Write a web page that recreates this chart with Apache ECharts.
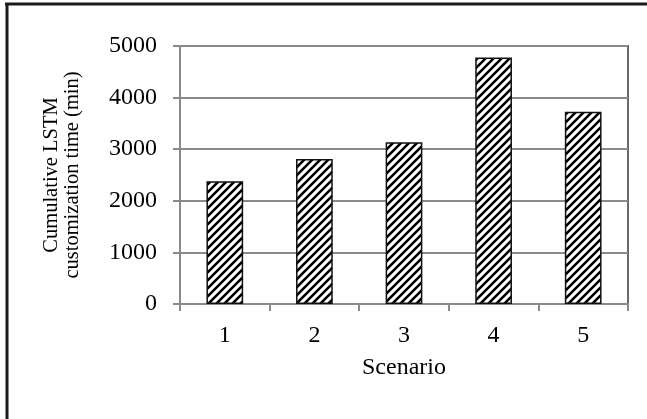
<!DOCTYPE html>
<html><head><meta charset="utf-8">
<script src="https://cdn.jsdelivr.net/npm/echarts@6/dist/echarts.min.js"></script>
<style>html,body{margin:0;padding:0;background:#fff}#c{width:647px;height:419px}</style>
</head><body><div id="c"></div>
<script>
var categories = ['1', '2', '3', '4', '5'];
var values = [2380, 2810, 3135, 4775, 3725];
var yTicks = [0, 1000, 2000, 3000, 4000, 5000];
var xName = 'Scenario';
var yName = 'Cumulative LSTM\ncustomization time (min)';

function hatch() {
  var s = 8, c = document.createElement('canvas');
  c.width = s; c.height = s;
  var g = c.getContext('2d');
  g.fillStyle = '#fff'; g.fillRect(0, 0, s, s);
  g.strokeStyle = '#000'; g.lineWidth = 2.6;
  [[0, s, s, 0], [-s/2, s/2, s/2, -s/2], [s/2, s*1.5, s*1.5, s/2]].forEach(function (l) {
    g.beginPath(); g.moveTo(l[0], l[1]); g.lineTo(l[2], l[3]); g.stroke();
  });
  return c;
}

var font = '"Liberation Serif", "Times New Roman", serif';
var chart = echarts.init(document.getElementById('c'), null, {renderer: 'canvas'});
chart.setOption({
  animation: false,
  backgroundColor: '#fff',
  grid: {left: 180, right: 19, top: 46, bottom: 115, show: true, borderColor: '#6a6a6a', borderWidth: 2, backgroundColor: 'transparent'},
  xAxis: {
    type: 'category', data: categories,
    name: xName, nameLocation: 'middle', nameGap: 52,
    nameTextStyle: {fontFamily: font, fontSize: 24, color: '#000'},
    axisLine: {lineStyle: {color: '#8a8a8a', width: 2}},
    axisTick: {show: true, length: 7, inside: false, lineStyle: {color: '#8a8a8a', width: 2}},
    axisLabel: {fontFamily: font, fontSize: 24, color: '#000', margin: 20}
  },
  yAxis: {
    type: 'value', min: yTicks[0], max: yTicks[yTicks.length - 1], interval: 1000,
    name: yName, nameLocation: 'middle', nameGap: 97, nameRotate: 90,
    nameTextStyle: {fontFamily: font, fontSize: 20.5, color: '#000', lineHeight: 21},
    axisLine: {show: true, lineStyle: {color: '#8a8a8a', width: 2}},
    axisTick: {show: true, length: 7, lineStyle: {color: '#8a8a8a', width: 2}},
    axisLabel: {fontFamily: font, fontSize: 24, color: '#000', margin: 23, formatter: function (v) { return String(v); }},
    splitLine: {lineStyle: {color: '#8a8a8a', width: 2}}
  },
  series: [{
    type: 'bar', data: values, barWidth: '41%',
    itemStyle: {color: {image: hatch(), repeat: 'repeat'}, borderColor: '#111', borderWidth: 1.5}
  }],
  graphic: [
    {type: 'line', shape: {x1: 5, y1: 4, x2: 647, y2: 4}, style: {stroke: '#1a1a1a', lineWidth: 3}},
    {type: 'line', shape: {x1: 7, y1: 3, x2: 7, y2: 419}, style: {stroke: '#1a1a1a', lineWidth: 3}}
  ]
});
</script></body></html>
